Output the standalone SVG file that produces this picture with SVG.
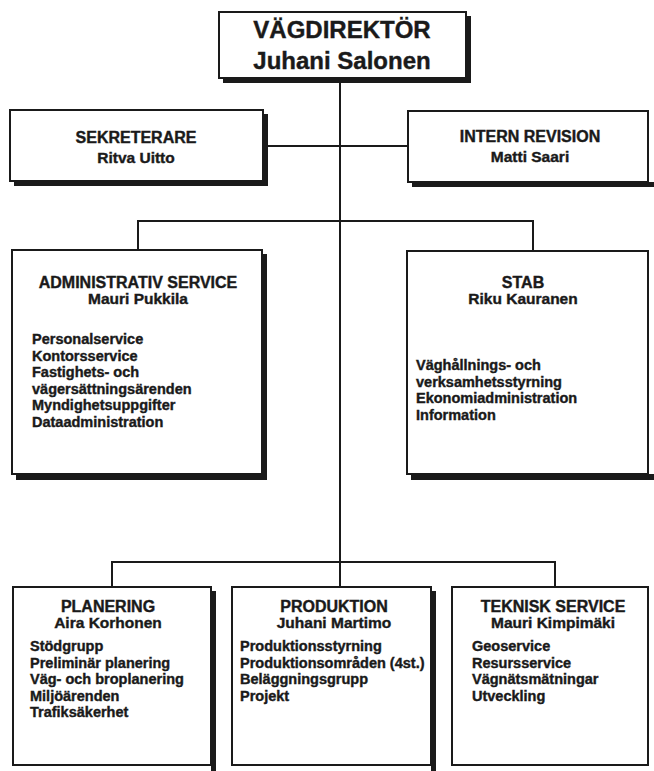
<svg xmlns="http://www.w3.org/2000/svg" width="654" height="771" viewBox="0 0 654 771">
<style>
.bx{fill:#fff;stroke:#1a1a1a;stroke-width:2}
.sh{fill:#1a1a1a}
.ln{fill:none;stroke:#1a1a1a;stroke-width:2}
text{font-family:"Liberation Sans",Arial,sans-serif;font-weight:bold;fill:#1a1a1a;stroke:#1a1a1a;stroke-width:0.4}
.big{font-size:24px}
.t{font-size:16px;text-anchor:middle}
.n{font-size:15.5px;text-anchor:middle}
.i{font-size:14.5px}
.c{text-anchor:middle}
</style>
<rect width="654" height="771" fill="#fff"/>
<g id="connectors">
<path class="ln" d="M340 78V587"/>
<path class="ln" d="M263 146H408"/>
<path class="ln" d="M138 250V221H533V251"/>
<path class="ln" d="M112 587V562H555V587"/>
</g>
<g id="vagdirektor">
<path class="sh" d="M223 78H471V83H223ZM466 16H471V83H466Z"/>
<rect class="bx" x="219" y="12" width="247" height="66"/>
<text class="big c" x="342" y="38">VÄGDIREKTÖR</text>
<text class="big c" x="342" y="69">Juhani Salonen</text>
</g>
<g id="sekreterare">
<path class="sh" d="M14 181H268V186H14ZM263 114H268V186H263Z"/>
<rect class="bx" x="10" y="110" width="253" height="71"/>
<text class="t" x="136" y="143">SEKRETERARE</text>
<text class="n" x="136" y="163">Ritva Uitto</text>
</g>
<g id="intern-revision">
<path class="sh" d="M412 182H654V187H412Z"/>
<rect class="bx" x="408" y="111" width="240" height="71"/>
<text class="t" x="530" y="142">INTERN REVISION</text>
<text class="n" x="530" y="162">Matti Saari</text>
</g>
<g id="administrativ-service">
<path class="sh" d="M16 474H267V480H16ZM262 254H267V480H262Z"/>
<rect class="bx" x="12" y="250" width="250" height="224"/>
<text class="t" x="138" y="288">ADMINISTRATIV SERVICE</text>
<text class="n" x="138" y="304">Mauri Pukkila</text>
<text class="i" x="32" y="344">Personalservice</text>
<text class="i" x="32" y="360.5">Kontorsservice</text>
<text class="i" x="32" y="377">Fastighets- och</text>
<text class="i" x="32" y="393.5">vägersättningsärenden</text>
<text class="i" x="32" y="410">Myndighetsuppgifter</text>
<text class="i" x="32" y="426.5">Dataadministration</text>
</g>
<g id="stab">
<path class="sh" d="M411 474H654V480H411Z"/>
<rect class="bx" x="407" y="251" width="241" height="223"/>
<text class="t" x="523" y="288">STAB</text>
<text class="n" x="523" y="304">Riku Kauranen</text>
<text class="i" x="416" y="370">Väghållnings- och</text>
<text class="i" x="416" y="386.5">verksamhetsstyrning</text>
<text class="i" x="416" y="403">Ekonomiadministration</text>
<text class="i" x="416" y="419.5">Information</text>
</g>
<g id="planering">
<path class="sh" d="M211 591H216V771H211Z"/>
<rect class="bx" x="13" y="587" width="198" height="178"/>
<text class="t" x="108" y="612">PLANERING</text>
<text class="n" x="108" y="628">Aira Korhonen</text>
<text class="i" x="30" y="651">Stödgrupp</text>
<text class="i" x="30" y="667.5">Preliminär planering</text>
<text class="i" x="30" y="684">Väg- och broplanering</text>
<text class="i" x="30" y="700.5">Miljöärenden</text>
<text class="i" x="30" y="717">Trafiksäkerhet</text>
</g>
<g id="produktion">
<path class="sh" d="M431 591H436V771H431Z"/>
<rect class="bx" x="232" y="587" width="199" height="178"/>
<text class="t" x="334" y="612">PRODUKTION</text>
<text class="n" x="334" y="628">Juhani Martimo</text>
<text class="i" x="240" y="651">Produktionsstyrning</text>
<text class="i" x="240" y="667.5">Produktionsområden (4st.)</text>
<text class="i" x="240" y="684">Beläggningsgrupp</text>
<text class="i" x="240" y="700.5">Projekt</text>
</g>
<g id="teknisk-service">
<rect class="bx" x="452" y="587" width="196" height="178"/>
<text class="t" x="553" y="612">TEKNISK SERVICE</text>
<text class="n" x="553" y="628">Mauri Kimpimäki</text>
<text class="i" x="472" y="651">Geoservice</text>
<text class="i" x="472" y="667.5">Resursservice</text>
<text class="i" x="472" y="684">Vägnätsmätningar</text>
<text class="i" x="472" y="700.5">Utveckling</text>
</g>
</svg>
